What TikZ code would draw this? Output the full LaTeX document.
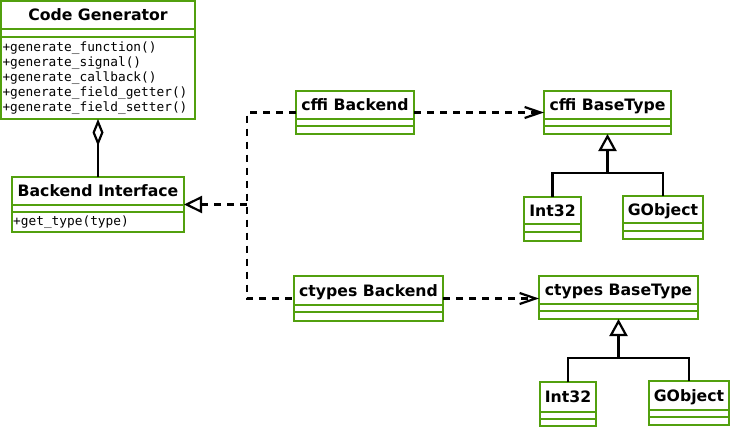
\documentclass[tikz,border=0pt]{standalone}
\usepackage{fontspec}
\setmainfont{DejaVu Sans}
\setmonofont{DejaVu Sans Mono}
\usetikzlibrary{arrows.meta}
\definecolor{umlgreen}{HTML}{52A00E}
\tikzset{
  frame/.style={rectangle, draw=umlgreen, line width=2.2pt, fill=white, inner sep=0pt, outer sep=0pt},
  sepline/.style={draw=umlgreen, line width=2.2pt},
  ctitle/.style={font=\fontsize{15.7}{18}\selectfont\bfseries, inner sep=0pt, anchor=base},
  cops/.style={font=\fontsize{12.8}{15}\selectfont\ttfamily, align=left, inner sep=0pt, anchor=north west},
  conn/.style={draw=black, line width=2.2pt},
  dashline/.style={conn, dash pattern=on 7pt off 6pt},
  dep/.style={dashline, -{Straight Barb[length=16pt,width=11pt]}},
  real/.style={dashline, -{Triangle[open,length=18pt,width=17pt]}},
  inh/.style={conn, -{Triangle[open,length=17pt,width=18pt]}},
  agg/.style={conn, -{Diamond[open,length=27pt,width=11pt]}},
}
\newcommand\umlbox[8]{%
  \node[frame, minimum width={#4-#2}, minimum height={#5-#3}] (#1) at ({(#2+#4)/2},{(#3+#5)/2}) {};
  \draw[sepline] (#2,#6) -- (#4,#6) (#2,#7) -- (#4,#7);
  \node[ctitle] (#1-title) at ({(#2+#4)/2},{(#3+#6)/2+5.7}) {#8};
}
\begin{document}
\begin{tikzpicture}[x=1pt,y=-1pt]
\useasboundingbox (0,0) rectangle (733,428);
\fill[white] (0,0) rectangle (733,428);

\umlbox{codegen}{1}{1}{195}{119}{29}{37}{Code Generator}
\node[cops] (codegen-ops) at (2.3,41.3) {+generate\_function()\\+generate\_signal()\\+generate\_callback()\\+generate\_field\_getter()\\+generate\_field\_setter()};

\umlbox{iface}{12}{177}{184}{232}{205}{212}{Backend Interface}
\node[cops] (iface-ops) at (13,215.5) {+get\_type(type)};

\umlbox{cffib}{296}{91}{414}{134}{119}{126}{cffi Backend}
\umlbox{cffibase}{544}{91}{671}{134}{119}{126}{cffi BaseType}
\umlbox{int32a}{524}{197}{581}{241}{224}{232}{Int32}
\umlbox{gobja}{623}{196}{703}{239}{223}{231}{GObject}

\umlbox{ctypesb}{294}{276}{443}{321}{305}{312}{ctypes Backend}
\umlbox{ctypesbase}{539}{276}{698}{319}{304}{311}{ctypes BaseType}
\umlbox{int32b}{540}{382}{596}{426}{412}{419}{Int32}
\umlbox{gobjb}{649}{381}{729}{425}{410}{417}{GObject}

% aggregation
\draw[agg] (iface.north) -- (codegen.south);

% realization
\coordinate (rj) at (247,204.5);
\draw[dashline] (cffib.west) -| (rj) |- (ctypesb.west);
\draw[real] (rj) -- (iface.east);

% dependencies
\draw[dep] (cffib.east) -- (cffibase.west);
\draw[dep] (ctypesb.east) -- (ctypesb.east -| ctypesbase.west);

% inheritance cffi
\coordinate (ja) at (607.5,173);
\draw[conn] (int32a.north) |- (ja);
\draw[conn] (gobja.north) |- (ja);
\draw[inh] (ja) -- (cffibase.south);

% inheritance ctypes
\coordinate (jb) at (618.5,358);
\draw[conn] (int32b.north) |- (jb);
\draw[conn] (gobjb.north) |- (jb);
\draw[inh] (jb) -- (ctypesbase.south);
\end{tikzpicture}
\end{document}
